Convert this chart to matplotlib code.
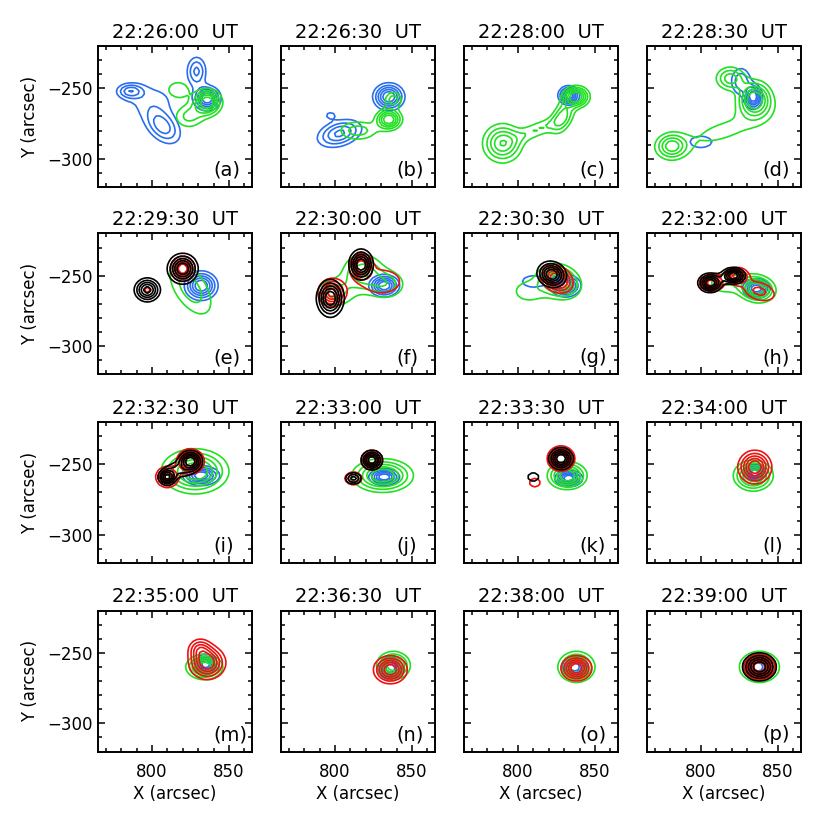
import numpy as np
import matplotlib
matplotlib.use('Agg')
import matplotlib.pyplot as plt
from matplotlib.ticker import MultipleLocator

# panel times and letters
times = ['22:26:00', '22:26:30', '22:28:00', '22:28:30',
         '22:29:30', '22:30:00', '22:30:30', '22:32:00',
         '22:32:30', '22:33:00', '22:33:30', '22:34:00',
         '22:35:00', '22:36:30', '22:38:00', '22:39:00']
letters = list('abcdefghijklmnop')

# sources, one list per panel
# (x, y, outer half-width along angle, outer half-width across, peak, angle in deg)
blue_src = [
    [(786, -252, 8, 5, 0.55, 0), (807, -277, 14, 9, 0.6, -50), (800, -258, 9, 6, 0.25, 0),
     (836, -257, 9, 9, 1.0, 0), (829, -238, 6, 10, 0.55, 0)],
    [(835, -256, 10.5, 10, 1.0, 0), (803, -282, 15, 9, 0.7, 20), (797, -269, 2, 1.5, 0.25, 0)],
    [(833, -255, 7, 7, 1.0, 0)],
    [(834, -256, 6, 9, 1.0, 0), (826, -245, 6, 9, 0.5, 0), (800, -288, 7, 4, 0.3, 0)],
    [(832, -257, 11, 10.5, 1.0, 0)],
    [(832, -257, 10, 8, 1.0, 0)],
    [(831, -257, 10, 8, 1.0, 0), (810, -254, 7, 4, 0.3, 0)],
    [(836, -259, 9, 7, 1.0, 0)],
    [(832, -258, 12, 7, 1.0, 0)],
    [(832, -259, 10, 6, 1.0, 0)],
    [(833, -260, 9, 6, 1.0, 0)],
    [(835, -256, 7, 6, 1.0, 0)],
    [(835, -258, 7, 7, 1.0, 0)],
    [(836, -261, 8, 8, 1.0, 0)],
    [(837, -260, 8, 8, 1.0, 0)],
    [(837, -260, 9, 8, 1.0, 0)],
]
green_src = [
    [(836, -260, 10, 10, 1.0, 0), (824, -270, 8, 7, 0.4, 0), (817, -251, 6, 5, 0.35, 0)],
    [(835, -272, 9, 8, 1.0, 0), (838, -258, 5, 5, 0.45, 0), (815, -280, 11, 6, 0.45, 0)],
    [(790, -289, 13, 14, 0.8, 0), (813, -279, 12, 4, 0.35, 25), (838, -256, 9, 8, 1.0, 0),
     (829, -270, 6, 12, 0.55, -20)],
    [(781, -291, 10, 9, 0.7, 0), (835, -258, 12, 14, 1.0, 0), (819, -243, 9, 8, 0.6, 0),
     (815, -280, 16, 5, 0.24, 20)],
    [(825, -259, 20, 10, 0.45, -60)],
    [(818, -247, 12, 12, 0.6, 0), (800, -262, 11, 9, 0.4, 0), (833, -256, 11, 9, 0.45, 0)],
    [(827, -254, 15, 12, 1.0, -30), (807, -261, 8, 6, 0.3, 0)],
    [(836, -259, 13, 10, 1.0, -15), (815, -255, 8, 6, 0.35, 0)],
    [(828, -255, 22, 16, 1.0, 0)],
    [(831, -258, 20, 12, 1.0, 0)],
    [(832, -258, 13, 10, 1.0, 0)],
    [(834, -258, 13, 11, 1.0, 0)],
    [(834, -260, 12, 9, 1.0, 0)],
    [(838, -259, 11, 10, 1.0, 0)],
    [(838, -260, 12, 11, 1.0, 0)],
    [(838, -260, 13, 11, 1.0, 0)],
]
red_src = [
    [], [], [], [],
    [(820, -245, 8, 9, 1.0, 0), (797, -260, 2, 2, 0.35, 0)],
    [(798, -262, 9, 10, 0.9, 0), (817, -243, 7, 9, 1.0, 0), (830, -254, 12, 8, 0.3, 0)],
    [(825, -252, 12, 9, 1.0, -40)],
    [(807, -255, 8, 6, 1.0, 0), (823, -250, 8, 6, 0.9, 0), (838, -261, 10, 6, 0.4, -20)],
    [(810, -259, 7.5, 7.5, 0.9, 0), (825, -248, 9, 9, 1.0, 0)],
    [(824, -247, 7, 7, 1.0, 0), (812, -260, 5.5, 4.5, 0.5, 0)],
    [(828, -246, 9, 9, 1.0, 0), (811, -263, 3.5, 3, 0.3, 0)],
    [(835, -252, 11, 12, 1.0, 0)],
    [(836, -257, 12, 12, 1.0, 0), (831, -247, 6, 6, 0.45, 0)],
    [(836, -262, 11, 10, 1.0, 0)],
    [(838, -261, 10, 9, 1.0, 0)],
    [(838, -260, 10, 9, 1.0, 0)],
]
black_src = [
    [], [], [], [],
    [(797, -260, 8.5, 8.5, 0.9, 0), (820, -245, 10, 11, 1.0, 0)],
    [(797, -266, 9, 13.5, 1.0, 0), (817, -242, 8, 11, 1.0, 0)],
    [(822, -249, 10, 9, 1.0, -40)],
    [(806, -255, 8, 7, 1.0, 0), (821, -250, 8, 6, 1.0, 0)],
    [(810, -259, 6, 6, 0.9, 0), (825, -248, 8, 8, 1.0, 0), (817, -254, 5, 3, 0.3, -30)],
    [(824, -247, 7, 7, 1.0, 0), (812, -260, 5, 4, 0.6, 0)],
    [(828, -246, 8, 8, 1.0, 0), (810, -259, 3.5, 3, 0.3, 0)],
    [], [], [], [],
    [(838, -260, 11, 10, 1.0, 0)],
]

levels = [0.2, 0.35, 0.5, 0.65, 0.8]


def source_map(blobs, xx, yy):
    img = np.zeros_like(xx)
    for x0, y0, rx, ry, amp, ang in blobs:
        # widths given at the outermost level
        k = np.sqrt(2 * np.log(amp / levels[0]))
        t = np.radians(ang)
        dx = xx - x0
        dy = yy - y0
        u = dx * np.cos(t) + dy * np.sin(t)
        v = -dx * np.sin(t) + dy * np.cos(t)
        img += amp * np.exp(-0.5 * ((u * k / rx) ** 2 + (v * k / ry) ** 2))
    return img


def main():
    plt.rcParams['font.family'] = 'DejaVu Sans'
    fig = plt.figure(figsize=(8.3, 8.3), dpi=100)

    gx = np.arange(765, 866, 2.0)
    gy = np.arange(-320, -219, 2.0)
    xx, yy = np.meshgrid(gx, gy)

    lefts = [98, 281, 464, 647]
    tops = [46, 233.5, 422, 610.5]
    w, h = 154, 141

    colors = [('#2a6ef0', blue_src), ('#22e022', green_src),
              ('#ee1111', red_src), ('black', black_src)]

    for i in range(16):
        row, col = divmod(i, 4)
        ax = fig.add_axes([lefts[col] / 830, 1 - (tops[row] + h) / 830, w / 830, h / 830])

        for c, src in colors:
            if not src[i]:
                continue
            img = source_map(src[i], xx, yy)
            ax.contour(gx, gy, img, levels=levels, colors=c, linewidths=1.2)

        ax.set_xlim(765, 865)
        ax.set_ylim(-320, -220)
        ax.xaxis.set_major_locator(MultipleLocator(50))
        ax.xaxis.set_minor_locator(MultipleLocator(10))
        ax.yaxis.set_major_locator(MultipleLocator(50))
        ax.yaxis.set_minor_locator(MultipleLocator(10))
        ax.tick_params(which='both', direction='in', top=True, right=True,
                       labelbottom=(row == 3), labelleft=(col == 0), labelsize=12)
        ax.tick_params(which='major', length=5, width=1.1)
        ax.tick_params(which='minor', length=3, width=1.1)
        ax.tick_params(axis='x', pad=8)
        ax.tick_params(axis='y', pad=4)
        for s in ax.spines.values():
            s.set_linewidth(1.4)

        ax.set_title(times[i] + '  UT', fontsize=14, pad=6)
        ax.text(0.748, 0.05, '(' + letters[i] + ')', transform=ax.transAxes,
                fontsize=14, ha='left', va='bottom')
        if row == 3:
            ax.set_xlabel('X (arcsec)', fontsize=12, labelpad=3)
        if col == 0:
            ax.set_ylabel('Y (arcsec)', fontsize=12, labelpad=6)

    fig.savefig('out.png', dpi=100)


if __name__ == '__main__':
    main()
